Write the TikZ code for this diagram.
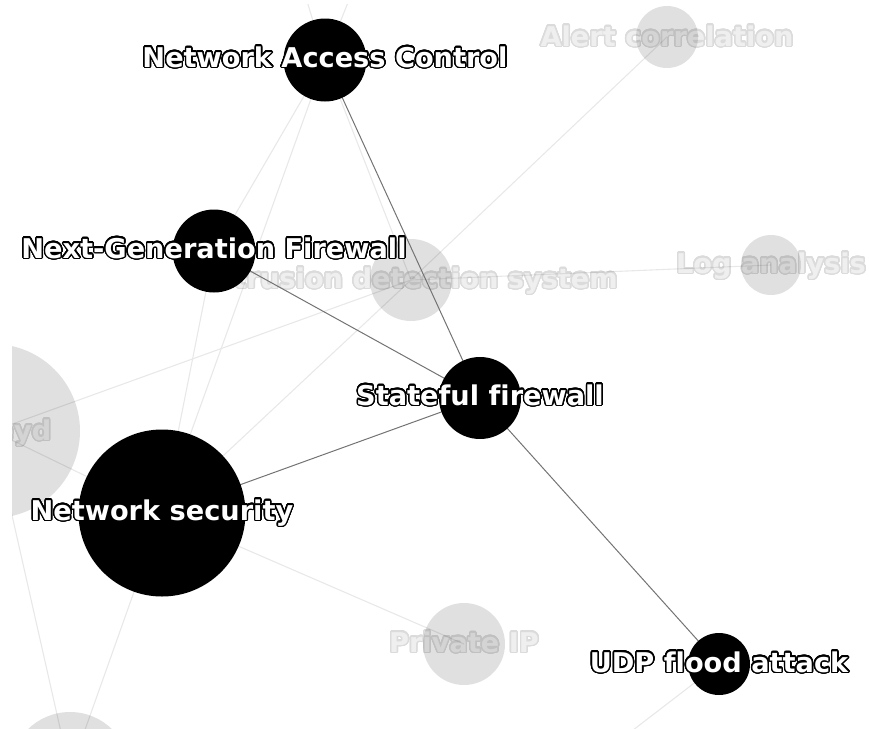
\documentclass[tikz,border=0pt]{standalone}
\usepackage{fontspec}
\newfontfamily\lblfont{DejaVu Sans}[Ligatures=CommonOff]
\usepackage{contour}
\contourlength{1.4pt}
\contournumber{32}

\begin{document}
\begin{tikzpicture}[x=1pt,y=-1pt,
  hub/.style={circle, fill=black, draw=none, inner sep=0pt, minimum size=#1},
  dim/.style={circle, fill=black, fill opacity=0.12, draw=none, inner sep=0pt, minimum size=#1},
  link/.style={draw=black!55, line width=1pt},
  faint/.style={draw=black!9, line width=1.1pt},
  lbl/.style={anchor=base, inner sep=0pt, text=white,
    font=\lblfont\bfseries\fontsize{27.2}{30}\selectfont},
  dimlbl/.style={lbl, text=black!45},
]
\useasboundingbox (0,0) rectangle (869,728);
\clip (12,4) rectangle (869,728);

% node centres
\coordinate (nac) at (325,60);
\coordinate (ngf) at (214,251);
\coordinate (sfw) at (480,398);
\coordinate (nsec) at (162,513);
\coordinate (udp) at (719,664);
\coordinate (ids) at (411,280);
\coordinate (alert) at (667,37);
\coordinate (logan) at (771,265);
\coordinate (pip) at (464,644);
\coordinate (honeyd) at (-7,431);
\coordinate (lowleft) at (70,772);
\coordinate (up1) at (276,-100);
\coordinate (up2) at (389,-100);
\coordinate (down1) at (542,800);

% faint connectors
\draw[faint] (nac) -- (ngf);
\draw[faint] (nac) -- (nsec);
\draw[faint] (nac) -- (ids);
\draw[faint] (nac) -- (up1);
\draw[faint] (nac) -- (up2);
\draw[faint] (ngf) -- (nsec);
\draw[faint] (ids) -- (alert);
\draw[faint] (ids) -- (logan);
\draw[faint] (ids) -- (nsec);
\draw[faint] (ids) -- (honeyd);
\draw[faint] (honeyd) -- (nsec);
\draw[faint] (honeyd) -- (lowleft);
\draw[faint] (nsec) -- (lowleft);
\draw[faint] (nsec) -- (pip);
\draw[faint] (udp) -- (down1);

% dimmed nodes
\node[dim=82] (ids-c) at (ids) {};
\node[dim=62] (alert-c) at (alert) {};
\node[dim=60] (logan-c) at (logan) {};
\node[dim=82] (pip-c) at (pip) {};
\node[dim=174] (honeyd-c) at (honeyd) {};
\node[dim=120] (lowleft-c) at (lowleft) {};

% dimmed labels
\begin{scope}[transparency group, opacity=0.14]
\node[dimlbl] (ids-l) at ([yshift=-8pt]ids) {\contour{black}{Intrusion detection system}};
\node[dimlbl] (alert-l) at ([yshift=-9pt]alert) {\contour{black}{Alert correlation}};
\node[dimlbl] (logan-l) at ([yshift=-8pt]logan) {\contour{black}{Log analysis}};
\node[dimlbl] (pip-l) at ([yshift=-8pt]pip) {\contour{black}{Private IP}};
\node[dimlbl] (honeyd-l) at ([yshift=-9pt]honeyd) {\contour{black}{Honeyd}};
\end{scope}

% highlighted connectors
\draw[link] (nac) -- (sfw);
\draw[link] (ngf) -- (sfw);
\draw[link] (nsec) -- (sfw);
\draw[link] (sfw) -- (udp);

% highlighted nodes
\node[hub=83] (nac-c) at (nac) {};
\node[hub=83] (ngf-c) at (ngf) {};
\node[hub=82] (sfw-c) at (sfw) {};
\node[hub=167] (nsec-c) at (nsec) {};
\node[hub=62] (udp-c) at (udp) {};

% highlighted labels
\node[lbl] (nac-l) at ([yshift=-7pt]nac) {\contour{black}{Network Access Control}};
\node[lbl] (ngf-l) at ([yshift=-7pt]ngf) {\contour{black}{Next-Generation Firewall}};
\node[lbl] (sfw-l) at ([yshift=-7pt]sfw) {\contour{black}{Stateful firewall}};
\node[lbl] (nsec-l) at ([yshift=-7pt]nsec) {\contour{black}{Network security}};
\node[lbl] (udp-l) at ([yshift=-8pt]udp) {\contour{black}{UDP flood attack}};
\end{tikzpicture}
\end{document}
